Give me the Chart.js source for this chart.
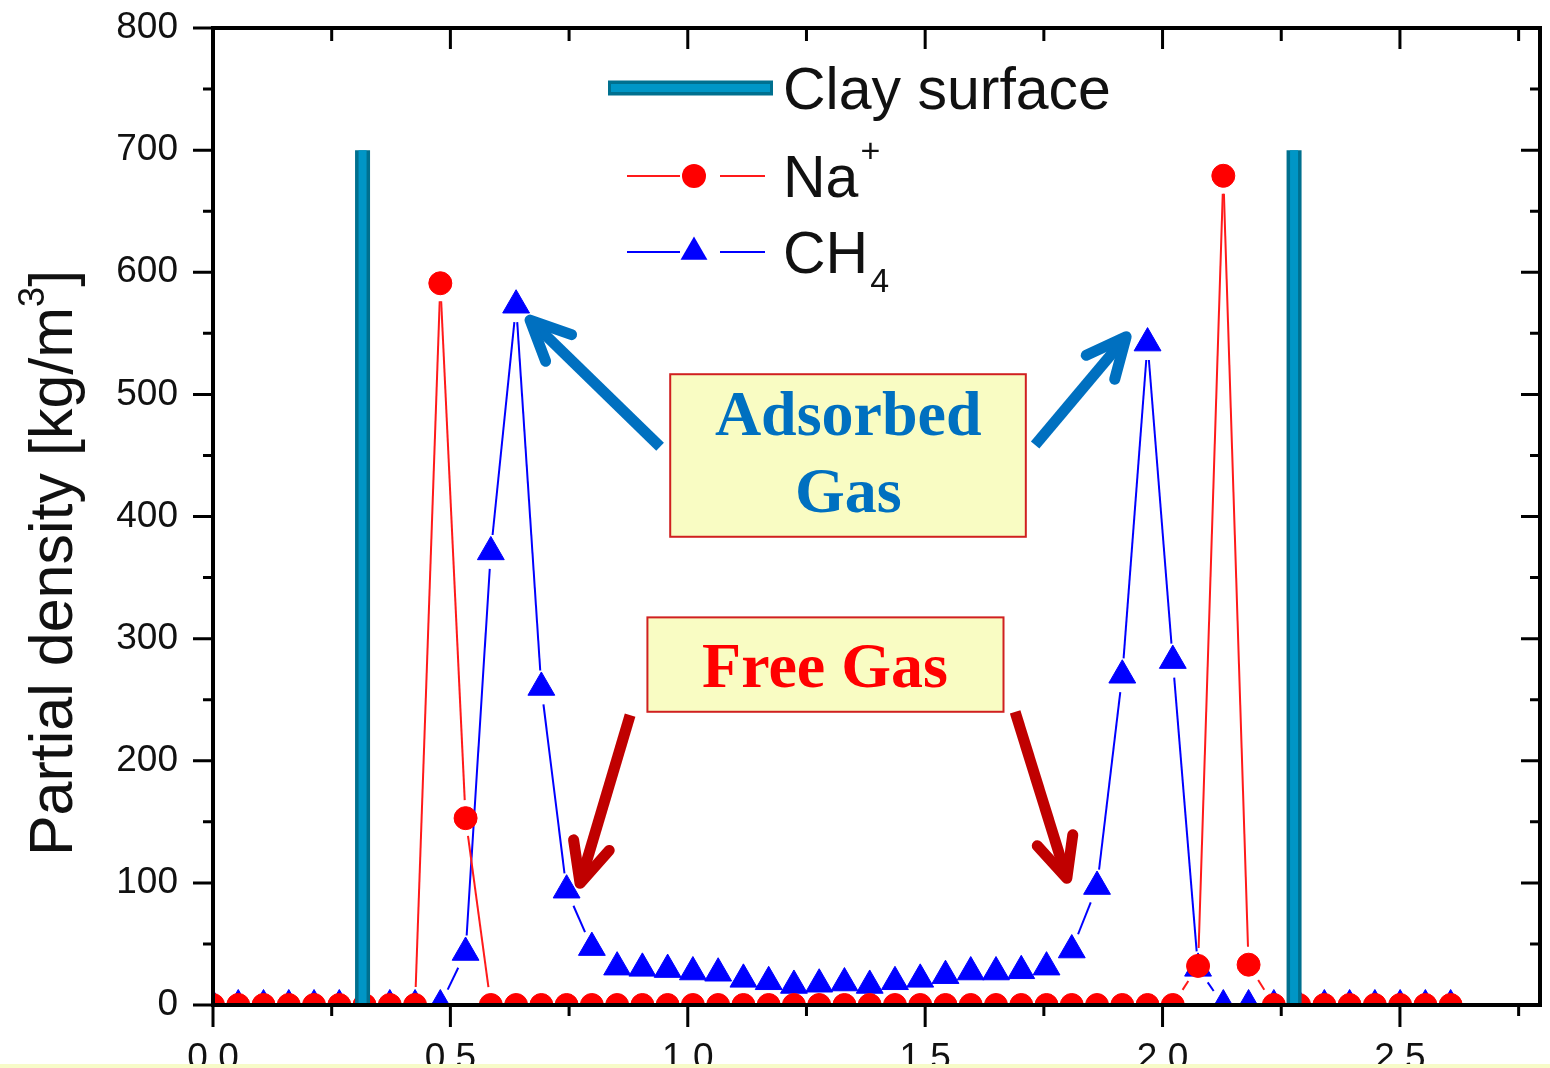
<!DOCTYPE html>
<html>
<head>
<meta charset="utf-8">
<title>Partial density profiles</title>
<script src="https://cdn.jsdelivr.net/npm/chart.js@4.4.1/dist/chart.umd.min.js"></script>
<style>
  html, body { margin: 0; padding: 0; background: #fff; }
  #wrap { width: 1550px; height: 1068px; }
</style>
</head>
<body>
<div id="wrap"><canvas id="densityChart" width="1550" height="1068"></canvas></div>
<script>
// bin centres across the pore (nm)
const binPos = [0, 0.0532, 0.1064, 0.1596, 0.2128, 0.2660, 0.3192, 0.3724, 0.4256, 0.4788,
  0.5320, 0.5852, 0.6384, 0.6916, 0.7448, 0.7980, 0.8512, 0.9044, 0.9576, 1.0108,
  1.0640, 1.1172, 1.1704, 1.2236, 1.2768, 1.3300, 1.3832, 1.4364, 1.4896, 1.5428,
  1.5960, 1.6492, 1.7024, 1.7556, 1.8088, 1.8620, 1.9152, 1.9684, 2.0216, 2.0748,
  2.1280, 2.1812, 2.2344, 2.2876, 2.3408, 2.3940, 2.4472, 2.5004, 2.5536, 2.6068];

// kg/m3
const naDensity = [0, 0, 0, 0, 0, 0, 0, 0, 0, 591,
  153, 0, 0, 0, 0, 0, 0, 0, 0, 0,
  0, 0, 0, 0, 0, 0, 0, 0, 0, 0,
  0, 0, 0, 0, 0, 0, 0, 0, 0, 32,
  679, 33, 0, 0, 0, 0, 0, 0, 0, 0];

const ch4Density = [0, 0, 0, 0, 0, 0, 0, 0, 0, 0,
  43, 371, 573, 260, 94, 47, 31, 30, 29, 27,
  26, 21, 19, 16, 17, 18, 16, 19, 21, 24,
  27, 27, 28, 31, 45, 97, 270, 542, 282, 30,
  0, 0, 0, 0, 0, 0, 0, 0, 0, 0];

// clay surfaces drawn as vertical bars
const clayPos = [0.315, 2.277];
const clayTop = 700;

const xTicks = [0, 0.5, 1.0, 1.5, 2.0, 2.5];
const xMinorTicks = [0.25, 0.75, 1.25, 1.75, 2.25, 2.75];
const yTicks = [0, 100, 200, 300, 400, 500, 600, 700, 800];
const yMinorTicks = [50, 150, 250, 350, 450, 550, 650, 750];

// text callouts, in data units
const callouts = [
  { lines: ['Adsorbed', 'Gas'], color: '#0070c0', box: [0.963, 516.5, 1.712, 383.4], textX: 1.338, baselines: [466.5, 403.5] },
  { lines: ['Free Gas'], color: '#ff0000', box: [0.915, 317.4, 1.665, 240.1], textX: 1.289, baselines: [260.6] }
];
const arrows = [
  { from: [0.9417, 457.1], to: [0.6678, 560.8], color: '#0070c0' },
  { from: [1.7316, 458.5], to: [1.9233, 547.2], color: '#0070c0' },
  { from: [0.8785, 237.4], to: [0.7731, 99.6], color: '#c00000' },
  { from: [1.6895, 240.1], to: [1.7984, 103.7], color: '#c00000' }
];

const SANS = "'Liberation Sans', Arial, sans-serif";
const SERIF = "'Liberation Serif', 'Times New Roman', serif";
Chart.defaults.font.family = SANS;

const toPoints = vals => binPos.map((x, i) => ({ x: x, y: vals[i] }));
const clayPoints = clayPos.flatMap((x, i) => [
  ...(i ? [{ x: x, y: null }] : []), { x: x, y: 0 }, { x: x, y: clayTop }
]);

// leave a small gap between each line segment and the markers it joins
function gapDash(gap) {
  return ctx => {
    const a = ctx.p0, b = ctx.p1;
    const len = Math.hypot(b.x - a.x, b.y - a.y);
    const tail = len + 1000 + ctx.p0DataIndex;
    const dash = len - 2 * gap;
    return dash > 0 ? [0, gap, dash, tail] : [0, tail];
  };
}

const lineStyle = (vals, color, gap, order) => ({
  data: toPoints(vals),
  borderColor: color,
  borderWidth: 2,
  pointRadius: 0,
  fill: false,
  tension: 0,
  clip: 0,
  order: order,
  segment: { borderDash: gapDash(gap) }
});

const markerStyle = (vals, color, style, radius, order) => ({
  data: toPoints(vals),
  showLine: false,
  pointStyle: style,
  pointRadius: radius,
  pointBackgroundColor: color,
  pointBorderColor: color,
  pointBorderWidth: 1,
  clip: 0,
  order: order
});

// axis frame with Origin-style major/minor ticks
const frameTicks = {
  id: 'frameTicks',
  afterDatasetsDraw(chart) {
    const { ctx, chartArea: a, scales: { x, y } } = chart;
    ctx.save();
    ctx.strokeStyle = '#000';
    ctx.lineWidth = 3;
    ctx.beginPath();
    yTicks.concat(yMinorTicks).forEach(v => {
      const major = yTicks.includes(v);
      const py = y.getPixelForValue(v);
      ctx.moveTo(a.left - (major ? 20 : 10), py);
      ctx.lineTo(a.left, py);
      ctx.moveTo(a.right, py);
      ctx.lineTo(a.right - (major ? 19 : 10), py);
    });
    xTicks.concat(xMinorTicks).forEach(v => {
      const major = xTicks.includes(v);
      const px = x.getPixelForValue(v);
      ctx.moveTo(px, a.bottom);
      ctx.lineTo(px, a.bottom + (major ? 22 : 11));
      ctx.moveTo(px, a.top);
      ctx.lineTo(px, a.top + (major ? 21 : 13));
    });
    ctx.stroke();
    ctx.lineWidth = 4;
    ctx.strokeRect(a.left, a.top, a.right - a.left, a.bottom - a.top);
    ctx.restore();
  }
};

function drawArrow(ctx, x0, y0, x1, y1, color) {
  const ang = Math.atan2(y0 - y1, x0 - x1);
  const barb = 44, spread = 25 * Math.PI / 180;
  ctx.strokeStyle = color;
  ctx.lineWidth = 11;
  ctx.lineCap = 'butt';
  ctx.beginPath();
  ctx.moveTo(x0, y0);
  ctx.lineTo(x1, y1);
  ctx.stroke();
  ctx.lineCap = 'round';
  ctx.lineJoin = 'round';
  ctx.beginPath();
  ctx.moveTo(x1 + barb * Math.cos(ang + spread), y1 + barb * Math.sin(ang + spread));
  ctx.lineTo(x1, y1);
  ctx.lineTo(x1 + barb * Math.cos(ang - spread), y1 + barb * Math.sin(ang - spread));
  ctx.stroke();
}

const calloutPlugin = {
  id: 'callouts',
  afterDatasetsDraw(chart) {
    const { ctx, scales: { x, y } } = chart;
    ctx.save();
    callouts.forEach(c => {
      const bx0 = x.getPixelForValue(c.box[0]), by0 = y.getPixelForValue(c.box[1]);
      const bx1 = x.getPixelForValue(c.box[2]), by1 = y.getPixelForValue(c.box[3]);
      ctx.fillStyle = '#f9fcc3';
      ctx.fillRect(bx0, by0, bx1 - bx0, by1 - by0);
      ctx.strokeStyle = '#d02020';
      ctx.lineWidth = 2;
      ctx.strokeRect(bx0, by0, bx1 - bx0, by1 - by0);
      ctx.fillStyle = c.color;
      ctx.font = 'bold 64px ' + SERIF;
      ctx.textAlign = 'center';
      ctx.textBaseline = 'alphabetic';
      c.lines.forEach((t, i) => ctx.fillText(t, x.getPixelForValue(c.textX), y.getPixelForValue(c.baselines[i])));
    });
    arrows.forEach(r => drawArrow(ctx,
      x.getPixelForValue(r.from[0]), y.getPixelForValue(r.from[1]),
      x.getPixelForValue(r.to[0]), y.getPixelForValue(r.to[1]), r.color));
    ctx.restore();
  }
};

// legend inside the plot, drawn with the dataset colours
const legendPlugin = {
  id: 'seriesLegend',
  afterDatasetsDraw(chart) {
    const { ctx, chartArea: a } = chart;
    const ds = chart.data.datasets;
    const textX = a.left + 570;
    ctx.save();
    ctx.textAlign = 'left';
    ctx.textBaseline = 'alphabetic';
    ctx.fillStyle = '#111';

    // Clay surface
    let cy = a.top + 60;
    ctx.lineCap = 'butt';
    ctx.strokeStyle = ds[1].borderColor;
    ctx.lineWidth = ds[1].borderWidth;
    ctx.beginPath(); ctx.moveTo(a.left + 395, cy); ctx.lineTo(a.left + 560, cy); ctx.stroke();
    ctx.strokeStyle = ds[0].borderColor;
    ctx.lineWidth = ds[0].borderWidth;
    ctx.beginPath(); ctx.moveTo(a.left + 398, cy); ctx.lineTo(a.left + 557, cy); ctx.stroke();
    ctx.font = '59px ' + SANS;
    ctx.fillText('Clay surface', textX, cy + 21);

    const sample = (cy, lineDs, drawMark) => {
      ctx.strokeStyle = lineDs.borderColor;
      ctx.lineWidth = 2;
      ctx.beginPath();
      ctx.moveTo(a.left + 414, cy); ctx.lineTo(a.left + 467, cy);
      ctx.moveTo(a.left + 507, cy); ctx.lineTo(a.left + 552, cy);
      ctx.stroke();
      drawMark(a.left + 481, cy);
    };

    // Na+
    cy = a.top + 148;
    sample(cy, ds[4], (mx, my) => {
      ctx.fillStyle = ds[2].pointBackgroundColor;
      ctx.beginPath(); ctx.arc(mx, my, 12, 0, Math.PI * 2); ctx.fill();
    });
    ctx.fillStyle = '#111';
    ctx.font = '59px ' + SANS;
    ctx.fillText('Na', textX, cy + 21);
    const naW = ctx.measureText('Na').width;
    ctx.font = '34px ' + SANS;
    ctx.fillText('+', textX + naW + 2, cy - 14);

    // CH4
    cy = a.top + 224;
    sample(cy, ds[5], (mx, my) => {
      const r = ds[3].pointRadius;
      ctx.fillStyle = ds[3].pointBackgroundColor;
      ctx.beginPath();
      ctx.moveTo(mx, my - r);
      ctx.lineTo(mx + r * Math.sin(2 * Math.PI / 3), my + r / 2);
      ctx.lineTo(mx - r * Math.sin(2 * Math.PI / 3), my + r / 2);
      ctx.closePath(); ctx.fill();
    });
    ctx.fillStyle = '#111';
    ctx.font = '59px ' + SANS;
    ctx.fillText('CH', textX, cy + 21);
    const chW = ctx.measureText('CH').width;
    ctx.font = '34px ' + SANS;
    ctx.fillText('4', textX + chW + 2, cy + 40);
    ctx.restore();
  }
};

// rotated y title with superscript, plus the pale strip along the bottom edge
const titlePlugin = {
  id: 'yTitle',
  afterDraw(chart) {
    const ctx = chart.ctx;
    const runs = [
      { t: 'Partial density [kg/m', size: 61, rise: 0 },
      { t: '3', size: 36, rise: 28 },
      { t: ']', size: 61, rise: 0 }
    ];
    ctx.save();
    ctx.fillStyle = '#111';
    ctx.textBaseline = 'alphabetic';
    ctx.textAlign = 'left';
    let total = 0;
    runs.forEach(r => { ctx.font = r.size + 'px ' + SANS; r.w = ctx.measureText(r.t).width; total += r.w; });
    ctx.translate(72, 563);
    ctx.rotate(-Math.PI / 2);
    let cx = -total / 2;
    runs.forEach(r => {
      ctx.font = r.size + 'px ' + SANS;
      ctx.fillText(r.t, cx, -r.rise);
      cx += r.w;
    });
    ctx.restore();

    ctx.save();
    ctx.fillStyle = '#f7fbc8';
    ctx.fillRect(0, chart.height - 4, chart.width, 4);
    ctx.restore();
  }
};

new Chart(document.getElementById('densityChart'), {
  type: 'line',
  data: {
    datasets: [
      { label: 'Clay surface', data: clayPoints, borderColor: '#0096c6', borderWidth: 8, pointRadius: 0, spanGaps: false, order: 0 },
      { label: 'Clay surface', data: clayPoints, borderColor: '#00708f', borderWidth: 15, pointRadius: 0, spanGaps: false, order: 1 },
      Object.assign({ label: 'Na+' }, markerStyle(naDensity, '#ff0000', 'circle', 11.5, 2)),
      Object.assign({ label: 'CH4' }, markerStyle(ch4Density, '#0000ff', 'triangle', 15.5, 3)),
      Object.assign({ label: 'Na+' }, lineStyle(naDensity, '#ff1a1a', 18, 4)),
      Object.assign({ label: 'CH4' }, lineStyle(ch4Density, '#0000ff', 17, 5))
    ]
  },
  options: {
    responsive: false,
    devicePixelRatio: 1,
    animation: false,
    events: [],
    layout: { autoPadding: false, padding: { left: 0, top: 28, right: 10, bottom: 0 } },
    plugins: { legend: { display: false }, tooltip: { enabled: false } },
    scales: {
      x: {
        type: 'linear',
        min: 0,
        max: 2.795,
        grid: { display: false },
        border: { display: false },
        afterBuildTicks: axis => { axis.ticks = xTicks.map(v => ({ value: v })); },
        afterFit: axis => {
          axis.height = 63;
          axis.paddingLeft = 0;
          axis.paddingRight = 0;
        },
        ticks: {
          autoSkip: false,
          maxRotation: 0,
          padding: 24,
          color: '#111',
          font: { size: 37 },
          callback: v => v.toFixed(1)
        }
      },
      y: {
        min: 0,
        max: 800,
        grid: { display: false },
        border: { display: false },
        afterBuildTicks: axis => { axis.ticks = yTicks.map(v => ({ value: v })); },
        afterFit: axis => {
          axis.width = 213;
          axis.paddingTop = 0;
          axis.paddingBottom = 0;
        },
        ticks: {
          padding: 27,
          color: '#111',
          font: { size: 37 },
          callback: v => String(v)
        }
      }
    }
  },
  plugins: [frameTicks, calloutPlugin, legendPlugin, titlePlugin]
});
</script>
</body>
</html>
